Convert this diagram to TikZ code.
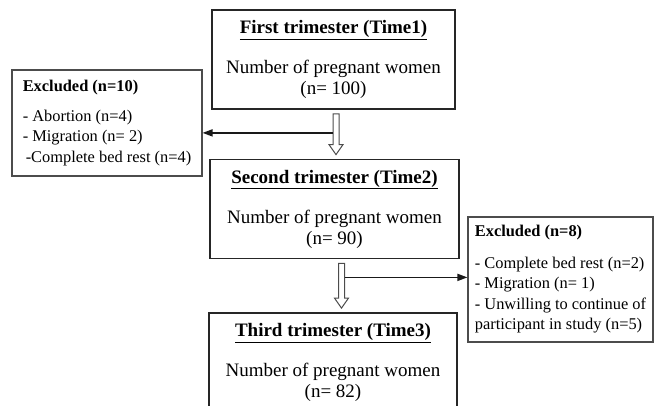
\documentclass[tikz,border=0pt]{standalone}
\usepackage{fontspec}
\setmainfont{Liberation Serif}
\usetikzlibrary{arrows.meta,calc,positioning}
\tikzset{
  stage/.style={rectangle,draw=black!85,line width=1.8pt,
                minimum width=#1,minimum height=99,align=center,
                inner sep=0pt,font=\fontsize{19}{21}\selectfont},
  stage/.default=246,
  excl/.style={rectangle,draw=black!70,line width=1.1pt,
               align=left,inner sep=0pt,
               font=\fontsize{16.4}{20.5}\selectfont},
  arrow/.style={-{Triangle[length=10pt,width=7pt]},line width=1.6pt,black!90},
  hollow/.style={draw=black!70,line width=1pt,fill=white},
}

\begin{document}
\begin{tikzpicture}[x=1pt,y=-1pt]
  \path[use as bounding box,clip] (0,0) rectangle (661,406);

  \node[stage=243] (box1) at (333.5,59.5)
    {\underline{\textbf{First trimester (Time1)}}\\[19pt]
     Number of pregnant women\\(n= 100)};
  \node[stage=249] (box2) at (334.5,209)
    {\underline{\textbf{Second trimester (Time2)}}\\[19pt]
     Number of pregnant women\\(n= 90)};
  \node[stage=248] (box3) at (333,362.5)
    {\underline{\textbf{Third trimester (Time3)}}\\[19pt]
     Number of pregnant women\\(n= 82)};

  \node[excl,minimum width=190,minimum height=106] (excl1) at (107,123)
    {\textbf{Excluded (n=10)}\\[9.5pt]
     - Abortion (n=4)\\
     - Migration (n= 2)\\
     \hspace{3pt}-Complete bed rest (n=4)};
  \node[excl,minimum width=185,minimum height=125] (excl2) at (560.5,279.5)
    {\textbf{Excluded (n=8)}\\[11pt]
     - Complete bed rest (n=2)\\
     - Migration (n= 1)\\
     - Unwilling to continue of\\
     participant in study (n=5)};

  % hollow arrows between the trimesters
  \foreach \a/\b/\dx/\n in {box1/box2/2.5/1,box2/box3/7/2} {
    \coordinate (top\n) at ($(\a.south)+(\dx,4)$);
    \coordinate (tip\n) at ($(top\n |- \b.north)+(0,-4)$);
    \draw[hollow] ($(top\n)+(-3,0)$) -- ($(tip\n)+(-3,-10)$)
      -- ($(tip\n)+(-7,-10)$) -- (tip\n) -- ($(tip\n)+(7,-10)$)
      -- ($(tip\n)+(3,-10)$) -- ($(top\n)+(3,0)$) -- cycle;
  }

  % exclusions
  \coordinate (out1) at ($(top1)+(-3,19)$);
  \coordinate (out2) at ($(top2)+(3,14)$);
  \draw[arrow] (out1) -- (out1 -| excl1.east);
  \draw[arrow] (out2) -- (out2 -| excl2.west);
\end{tikzpicture}
\end{document}
